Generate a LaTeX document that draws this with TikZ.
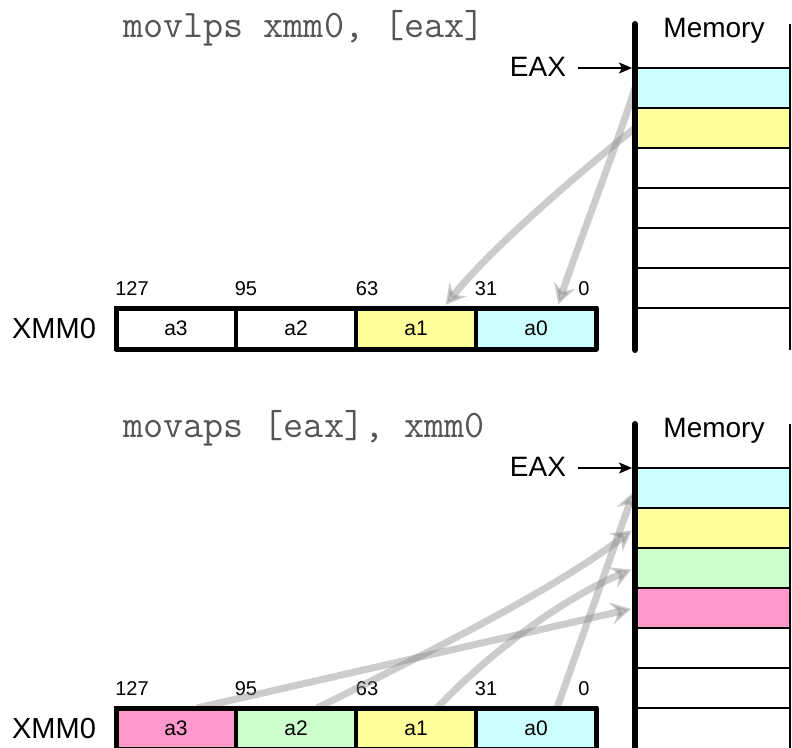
\documentclass[tikz,border=0pt]{standalone}
\usepackage{fontspec}
\setmainfont{Liberation Sans}
\usetikzlibrary{arrows.meta,calc}
\definecolor{cyanc}{HTML}{CCFFFF}
\definecolor{yellowc}{HTML}{FFFF99}
\definecolor{greenc}{HTML}{CCFFCC}
\definecolor{pinkc}{HTML}{FF99CC}
\definecolor{titlec}{HTML}{555555}
\tikzset{
  memcell/.style={draw, line width=1.4pt, minimum width=155pt, minimum height=40pt, inner sep=0pt, outer sep=0pt},
  regcell/.style={draw, line width=3.5pt, minimum width=120pt, minimum height=41pt, inner sep=0pt, outer sep=0pt, font=\fontsize{21}{23}\selectfont},
  regframe/.style={line width=5pt, line join=round},
  bitlbl/.style={anchor=base, inner sep=0pt, font=\fontsize{20}{22}\selectfont},
  biglbl/.style={anchor=base, inner sep=0pt, font=\fontsize{28}{30}\selectfont},
  titlelbl/.style={anchor=base west, inner sep=0pt, text=titlec, font=\ttfamily\fontsize{39}{41}\selectfont},
  spine/.style={line width=6pt, line cap=round},
  sideline/.style={line width=1.4pt},
  eaxarrow/.style={line width=1.5pt, -{Stealth[length=13pt,width=11pt,inset=3pt]}, shorten >=3pt, shorten <=12pt},
  flow/.style={line width=7pt, draw=black!50, opacity=0.4, -{Stealth[length=20pt,width=22pt,inset=7pt]}, shorten >=4pt}
}
\begin{document}
\begin{tikzpicture}[x=1pt,y=-1pt]
\useasboundingbox (0,0) rectangle (792,747);
\clip (0,0) rectangle (792,747);

% ================= TOP: movlps =================
\node[titlelbl] (tA) at (123,37) {movlps xmm0, [eax]};
\node[biglbl] (memA) at (714,37) {Memory};
\node[biglbl] (eaxA) at (538,76) {EAX};

\node[memcell, fill=cyanc]   (mA0) at (712.5,88)  {};
\node[memcell, fill=yellowc] (mA1) at (712.5,128) {};
\node[memcell]               (mA2) at (712.5,168) {};
\node[memcell]               (mA3) at (712.5,208) {};
\node[memcell]               (mA4) at (712.5,248) {};
\node[memcell]               (mA5) at (712.5,288) {};
\coordinate (rtA1) at (790,24);
\coordinate (rtA2) at (790,350);
\draw[sideline] (rtA1) -- (rtA2);

\node[biglbl, font=\fontsize{29}{31}\selectfont] (xA) at (54,338) {XMM0};
\node[regcell] (rA3) at (176,328.5) {a3};
\node[regcell] (rA2) at (296,328.5) {a2};
\node[regcell, fill=yellowc] (rA1) at (416,328.5) {a1};
\node[regcell, fill=cyanc]   (rA0) at (536,328.5) {a0};
\draw[regframe] (rA3.north west) rectangle (rA0.south east);

\node[bitlbl] (bA127) at (132,295) {127};
\node[bitlbl] (bA95)  at (246,295) {95};
\node[bitlbl] (bA63)  at (367,295) {63};
\node[bitlbl] (bA31)  at (486,295) {31};
\node[bitlbl] (bA0)   at (584,295) {0};

\draw[flow] (mA0.west) .. controls (615,150) and (580,240) .. ([xshift=21pt]rA0.north);
\draw[flow] (mA1.west) .. controls (570,180) and (490,250) .. ([xshift=27pt]rA1.north);

\coordinate (spA1) at (635,24);
\coordinate (spA2) at (635,350);
\draw[spine] (spA1) -- (spA2);
\draw[eaxarrow] (eaxA.east |- mA0.north west) -- (mA0.north west);

% ================= BOTTOM: movaps =================
\node[titlelbl] (tB) at (123,437) {movaps [eax], xmm0};
\node[biglbl] (memB) at (714,437) {Memory};
\node[biglbl] (eaxB) at (538,476) {EAX};

\node[memcell, fill=cyanc]   (mB0) at (712.5,488) {};
\node[memcell, fill=yellowc] (mB1) at (712.5,528) {};
\node[memcell, fill=greenc]  (mB2) at (712.5,568) {};
\node[memcell, fill=pinkc]   (mB3) at (712.5,608) {};
\node[memcell]               (mB4) at (712.5,648) {};
\node[memcell]               (mB5) at (712.5,688) {};
\coordinate (rtB1) at (790,424);
\coordinate (rtB2) at (790,760);
\draw[sideline] (rtB1) -- (rtB2);

\node[biglbl, font=\fontsize{29}{31}\selectfont] (xB) at (54,738) {XMM0};

\node[bitlbl] (bB127) at (132,695) {127};
\node[bitlbl] (bB95)  at (246,695) {95};
\node[bitlbl] (bB63)  at (367,695) {63};
\node[bitlbl] (bB31)  at (486,695) {31};
\node[bitlbl] (bB0)   at (584,695) {0};

\node[regcell, fill=pinkc]   (rB3) at (176,728.5) {a3};
\node[regcell, fill=greenc]  (rB2) at (296,728.5) {a2};
\node[regcell, fill=yellowc] (rB1) at (416,728.5) {a1};
\node[regcell, fill=cyanc]   (rB0) at (536,728.5) {a0};

\draw[flow] ([xshift=21pt]rB0.north) -- (mB0.west);
\draw[flow] ([xshift=21pt]rB1.north) .. controls (487,655) and (560,600) .. (mB2.west);
\draw[flow] ([xshift=21pt]rB2.north) .. controls (450,642) and (560,585) .. (mB1.west);
\draw[flow] ([xshift=21pt]rB3.north) -- (mB3.west);

\draw[regframe] (rB3.north west) rectangle (rB0.south east);

\coordinate (spB1) at (635,424);
\coordinate (spB2) at (635,760);
\draw[spine] (spB1) -- (spB2);
\draw[eaxarrow] (eaxB.east |- mB0.north west) -- (mB0.north west);
\end{tikzpicture}
\end{document}
